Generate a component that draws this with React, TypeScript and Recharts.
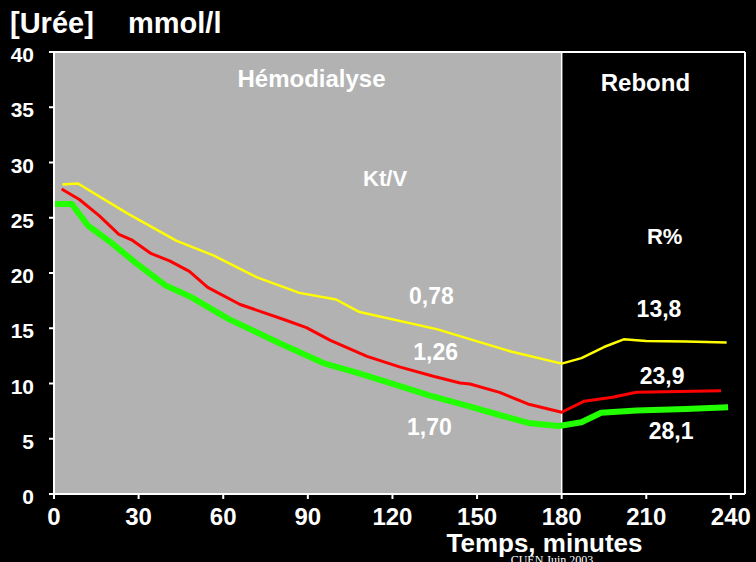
import React from 'react';
import { LineChart, Line, XAxis, YAxis, ReferenceArea, ReferenceLine, ReferenceDot } from 'recharts';

const minuteTicks = [0, 30, 60, 90, 120, 150, 180, 210, 240];
const ureaTicks = [0, 5, 10, 15, 20, 25, 30, 35, 40];

const yellowT = [3, 8.5, 26, 43.5, 56.5, 72, 87, 100, 108, 136, 162, 180, 187, 195, 202, 210, 224, 238.5];
const yellowC = [28.0, 28.1, 25.4, 22.9, 21.6, 19.6, 18.2, 17.6, 16.5, 14.9, 12.9, 11.8, 12.3, 13.3, 14.0, 13.85, 13.8, 13.7];

const redT = [2.7, 9, 16, 23, 27.5, 34.5, 41, 48, 54.5, 66, 82, 89.5, 98, 111, 122.5, 134.5, 144, 147.5, 158, 168, 180, 188, 198, 206.5, 236.5];
const redC = [27.6, 26.65, 25.2, 23.5, 23.0, 21.75, 21.1, 20.15, 18.7, 17.15, 15.75, 15.05, 13.9, 12.45, 11.5, 10.65, 10.05, 9.95, 9.2, 8.15, 7.4, 8.4, 8.75, 9.2, 9.35];

const greenT = [0, 6.3, 12, 20, 29.3, 39.4, 48.8, 61.8, 80, 95.5, 108.5, 119, 133.3, 146.3, 158, 168.8, 179, 187, 194, 206.5, 224, 239];
const greenC = [26.25, 26.25, 24.3, 22.8, 20.85, 18.9, 17.8, 15.85, 13.65, 11.85, 10.9, 10.05, 8.9, 8.0, 7.15, 6.4, 6.15, 6.5, 7.35, 7.55, 7.7, 7.85];

const noteTexts = ['Hémodialyse', 'Kt/V', 'Rebond', 'R%', '0,78', '1,26', '1,70', '13,8', '23,9', '28,1'];
const noteX = [91.3, 117.4, 209.7, 216.5, 133.8, 135.3, 133.1, 214.5, 215.6, 218.8];
const noteY = [36.8, 27.9, 36.5, 22.6, 17.15, 12.1, 5.3, 16.05, 10.0, 4.95];
const noteSize = [24, 22, 24, 22, 23, 23, 23, 23, 23, 23];

const toSeries = (t: number[], c: number[]) => t.map((x, i) => ({ t: x, c: c[i] }));
const yellowData = toSeries(yellowT, yellowC);
const redData = toSeries(redT, redC);
const greenData = toSeries(greenT, greenC);

const FONT = '"Liberation Sans", Arial, Helvetica, sans-serif';

const XTick = (props: any) => {
  const { x, y, payload } = props;
  return (
    <text x={x} y={y + 24} textAnchor="middle" fill="#fff" fontFamily={FONT} fontWeight="bold" fontSize={24}>
      {payload.value}
    </text>
  );
};

const YTick = (props: any) => {
  const { x, y, payload } = props;
  return (
    <text x={x - 13} y={y + 10} textAnchor="end" fill="#fff" fontFamily={FONT} fontWeight="bold" fontSize={21}>
      {payload.value}
    </text>
  );
};

const noteLabel = (text: string, size: number) => (props: any) => {
  const vb = props.viewBox || {};
  const cx = (vb.x ?? 0) + (vb.width ?? 0) / 2;
  const cy = (vb.y ?? 0) + (vb.height ?? 0) / 2;
  return (
    <text x={cx} y={cy} textAnchor="middle" fill="#fff" fontFamily={FONT} fontWeight="bold" fontSize={size}>
      {text}
    </text>
  );
};

const YTitle = () => (
  <g>
    <text x={10} y={33} fill="#fff" fontFamily={FONT} fontWeight="bold" fontSize={29}>[Urée]</text>
    <text x={128} y={33} fill="#fff" fontFamily={FONT} fontWeight="bold" fontSize={29}>mmol/l</text>
  </g>
);

const XTitle = () => (
  <g>
    <text x={544.5} y={552} textAnchor="middle" fill="#fff" fontFamily={FONT} fontWeight="bold" fontSize={26}>Temps, minutes</text>
    <text x={552} y={564} textAnchor="middle" fill="#fff" fontFamily='"Liberation Serif", "Times New Roman", serif' fontSize={12}>CUEN Juin 2003</text>
  </g>
);

export default function App() {
  return (
    <div style={{ position: 'absolute', left: 0, top: 0, width: 756, height: 562, background: '#000' }}>
      <LineChart width={756} height={562} margin={{ top: 52, right: 11, bottom: 8, left: 10 }}>
        <ReferenceArea x1={0} x2={180} y1={0} y2={40} fill="#B2B2B2" fillOpacity={1} stroke="none" />
        <ReferenceLine y={40} stroke="#fff" strokeWidth={2} />
        <ReferenceLine x={245} stroke="#fff" strokeWidth={2} />
        <ReferenceLine x={180} stroke="#fff" strokeWidth={1.5} />
        <XAxis
          type="number"
          dataKey="t"
          domain={[0, 245]}
          ticks={minuteTicks}
          interval={0}
          allowDataOverflow
          height={60}
          stroke="#fff"
          strokeWidth={2}
          tickSize={5}
          tick={<XTick />}
          label={{ content: () => <XTitle /> }}
        />
        <YAxis
          type="number"
          dataKey="c"
          domain={[0, 40]}
          ticks={ureaTicks}
          interval={0}
          allowDataOverflow
          width={44}
          stroke="#fff"
          strokeWidth={2}
          tickSize={5}
          tick={<YTick />}
          label={{ content: () => <YTitle /> }}
        />
        <Line data={yellowData} dataKey="c" type="linear" stroke="#FFFF00" strokeWidth={2.5} dot={false} isAnimationActive={false} strokeLinejoin="round" />
        <Line data={redData} dataKey="c" type="linear" stroke="#FF0000" strokeWidth={3} dot={false} isAnimationActive={false} strokeLinejoin="round" />
        <Line data={greenData} dataKey="c" type="linear" stroke="#22FF00" strokeWidth={6} dot={false} isAnimationActive={false} strokeLinejoin="round" />
        {noteTexts.map((txt, i) => (
          <ReferenceDot
            key={txt}
            x={noteX[i]}
            y={noteY[i]}
            r={0}
            fill="none"
            stroke="none"
            label={{ content: noteLabel(txt, noteSize[i]) }}
          />
        ))}
      </LineChart>
    </div>
  );
}
